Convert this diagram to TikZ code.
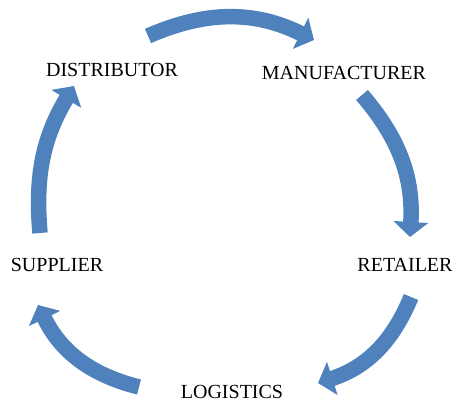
\documentclass[tikz,border=0pt]{standalone}
\usepackage{fontspec}
\setmainfont{Liberation Serif}
\usetikzlibrary{positioning,arrows.meta}
\definecolor{flowblue}{RGB}{79,129,189}
\tikzset{>={Triangle[width=34pt,length=15pt]}}

\begin{document}
\begin{tikzpicture}[x=1pt,y=1pt,
  flow/.style={line width=15.5pt,color=flowblue,->},
  stage/.style={font=\fontsize{20}{24}\selectfont,inner sep=0pt}]
\useasboundingbox (0,0) rectangle (457,-402);

% Stages of the chain
\node[stage] (D) at (112,-70) {DISTRIBUTOR};
\node[stage] (M) at (344,-73) {MANUFACTURER};
\node[stage] (R) at (405,-265) {RETAILER};
\node[stage] (L) at (232,-392) {LOGISTICS};
\node[stage] (S) at (57,-265) {SUPPLIER};

% Ends of the arrows
\coordinate (DM1) at (148,-36);
\coordinate (DM2) at (314,-40);
\coordinate (MR1) at (362,-95);
\coordinate (MR2) at (410,-237);
\coordinate (RL1) at (411,-297);
\coordinate (RL2) at (318,-383);
\coordinate (LS1) at (139,-387);
\coordinate (LS2) at (38,-305);
\coordinate (SD1) at (40,-233);
\coordinate (SD2) at (74,-86);

% Arrows round the circle
\draw[flow] (DM1) to[bend left=25] (DM2);
\draw[flow] (MR1) to[bend left=22] (MR2);
\draw[flow] (RL1) to[bend left=25] (RL2);
\draw[flow] (LS1) to[bend left=25] (LS2);
\draw[flow] (SD1) to[bend left=18] (SD2);

\end{tikzpicture}
\end{document}
